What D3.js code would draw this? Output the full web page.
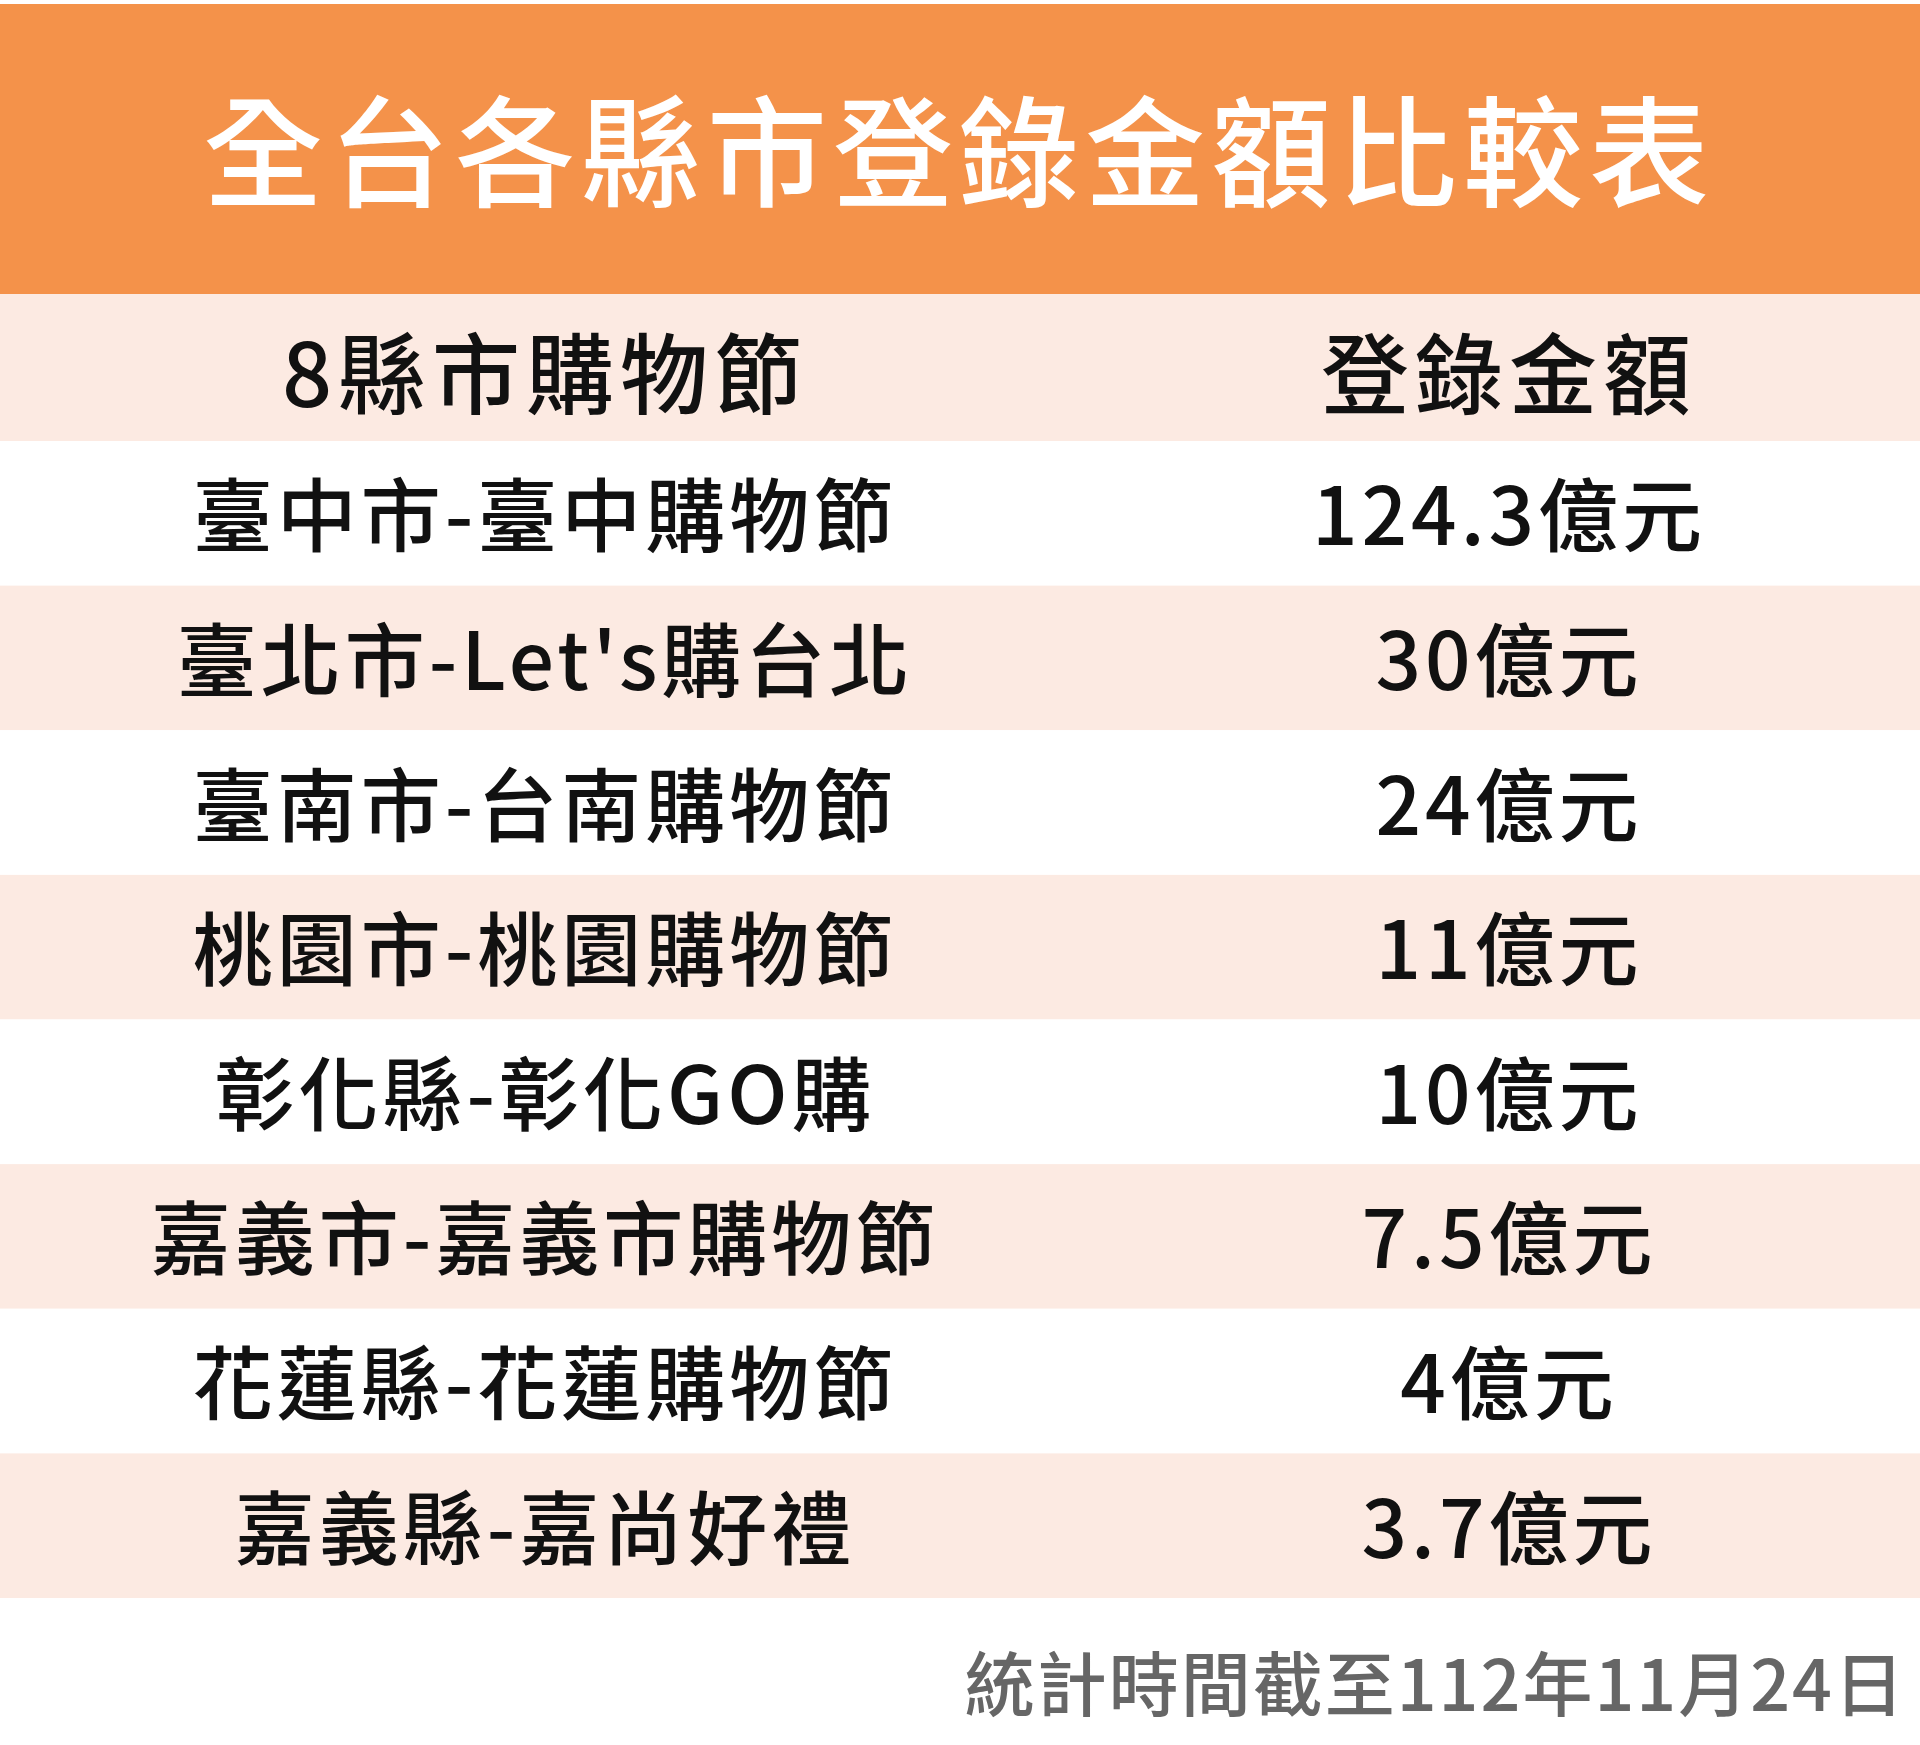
<!DOCTYPE html>
<html><head><meta charset="utf-8">
<script src="https://cdn.jsdelivr.net/npm/d3@7"></script>
<style>body{margin:0;background:#fff}</style>
</head><body>
<script>
// table data
var title = "全台各縣市登錄金額比較表";
var headers = ["8縣市購物節", "登錄金額"];
var events = ["臺中市-臺中購物節", "臺北市-Let's購台北", "臺南市-台南購物節", "桃園市-桃園購物節",
              "彰化縣-彰化GO購", "嘉義市-嘉義市購物節", "花蓮縣-花蓮購物節", "嘉義縣-嘉尚好禮"];
var amounts = [124.3, 30, 24, 11, 10, 7.5, 4, 3.7];
var unit = "億元";
var note = "統計時間截至112年11月24日";

var W = 1920, H = 1745;
var font = "'Noto Sans CJK TC', 'Noto Sans', sans-serif";
var svg = d3.select("body").append("svg").attr("width", W).attr("height", H);

// title band
svg.append("rect").attr("x", 0).attr("y", 4).attr("width", W).attr("height", 290).attr("fill", "#F4924A");
svg.append("text").attr("x", 959).attr("y", 146).attr("text-anchor", "middle").attr("dominant-baseline", "central")
    .attr("font-family", font).attr("font-weight", 500).attr("font-size", 120).attr("letter-spacing", 6)
    .attr("fill", "#fff").text(title);

// header row
svg.append("rect").attr("x", 0).attr("y", 294).attr("width", W).attr("height", 147).attr("fill", "#FCEAE2");
var colX = [545, 1509];
svg.selectAll("text.hd").data(headers).enter().append("text").attr("class", "hd")
    .attr("x", function(d, i) { return colX[i]; }).attr("y", 368)
    .attr("text-anchor", "middle").attr("dominant-baseline", "central")
    .attr("font-family", font).attr("font-weight", 500).attr("font-size", 88).attr("letter-spacing", 6)
    .attr("fill", "#111").text(function(d) { return d; });

// body rows
var y = d3.scaleBand().domain(d3.range(events.length)).range([441, 1598]);
var rows = svg.selectAll("g.row").data(events).enter().append("g").attr("class", "row")
    .attr("transform", function(d, i) { return "translate(0," + y(i) + ")"; });
rows.append("rect").attr("width", W).attr("height", y.bandwidth())
    .attr("fill", function(d, i) { return i % 2 ? "#FCEAE2" : "#fff"; });
rows.append("text").attr("x", colX[0]).attr("y", y.bandwidth() / 2 - 3)
    .attr("text-anchor", "middle").attr("dominant-baseline", "central")
    .attr("font-family", font).attr("font-weight", 500).attr("font-size", 80).attr("letter-spacing", 4)
    .attr("fill", "#111").text(function(d) { return d; });
rows.append("text").attr("x", colX[1]).attr("y", y.bandwidth() / 2 - 3)
    .attr("text-anchor", "middle").attr("dominant-baseline", "central")
    .attr("font-family", font).attr("font-weight", 500).attr("font-size", 80).attr("letter-spacing", 4)
    .attr("fill", "#111").text(function(d, i) { return amounts[i] + unit; });

// footnote
svg.append("text").attr("x", 1906).attr("y", 1680).attr("text-anchor", "end").attr("dominant-baseline", "central")
    .attr("font-family", font).attr("font-weight", 500).attr("font-size", 70).attr("letter-spacing", 2)
    .attr("fill", "#666").text(note);
</script>
</body></html>
